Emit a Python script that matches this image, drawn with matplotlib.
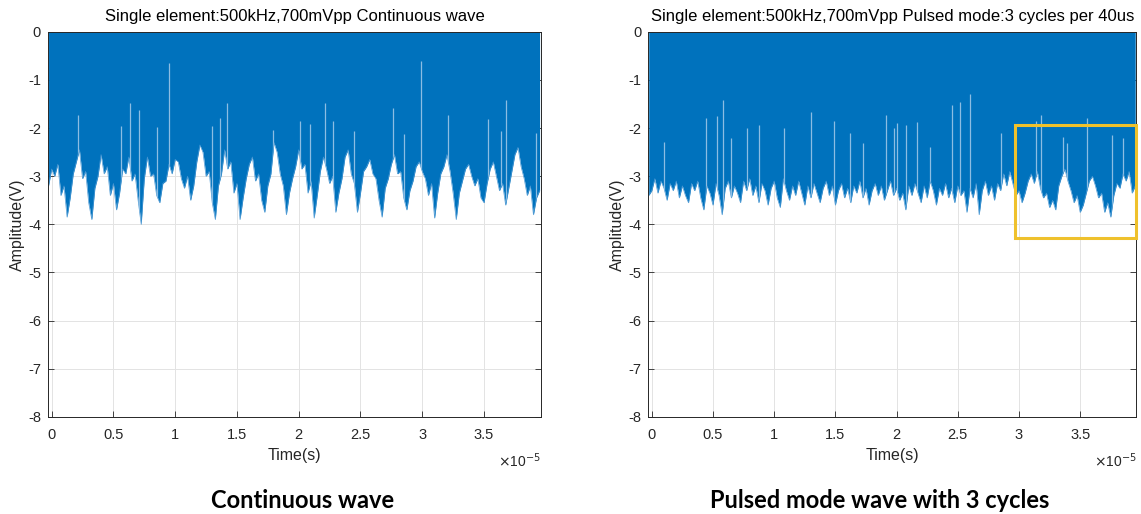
import numpy as np
import matplotlib
matplotlib.use("Agg")
import matplotlib.pyplot as plt
from matplotlib.patches import Rectangle
from matplotlib.ticker import FormatStrFormatter

plt.rcParams['font.family'] = ['Liberation Sans', 'DejaVu Sans']
plt.rcParams['axes.unicode_minus'] = False

# tiempo en unidades de 1e-5 s, muestras cada 0.025
t_inicio = -0.025
t_paso = 0.025

# envolvente inferior, onda continua
env_cont = [
    -3.20, -2.85, -3.00, -2.75, -3.40, -3.20, -3.85, -3.45, -2.95, -2.70,
    -2.45, -3.05, -2.90, -3.55, -3.90, -3.25, -3.00, -2.55, -2.95, -2.80,
    -3.40, -3.15, -3.70, -3.35, -2.85, -2.95, -2.60, -3.10, -2.95, -3.50,
    -4.00, -3.05, -2.60, -3.00, -2.95, -3.40, -3.55, -3.15, -3.10, -2.75,
    -2.95, -2.65, -2.70, -3.05, -3.25, -3.00, -3.50, -3.20, -2.70, -2.35,
    -2.50, -3.00, -2.90, -3.55, -3.90, -3.20, -2.95, -2.45, -2.85, -2.70,
    -3.35, -3.15, -3.90, -3.45, -3.05, -2.75, -2.60, -3.10, -2.95, -3.50,
    -3.75, -3.20, -2.95, -2.30, -2.50, -2.95, -3.20, -3.80, -3.35, -3.05,
    -2.80, -2.45, -2.85, -2.75, -3.35, -3.10, -3.87, -3.40, -2.90, -2.60,
    -2.85, -3.15, -3.00, -3.75, -3.35, -3.05, -2.60, -2.45, -2.95, -3.15,
    -3.75, -3.35, -2.90, -2.80, -2.65, -2.95, -3.05, -3.50, -3.85, -3.25,
    -3.05, -2.75, -2.55, -2.95, -2.90, -3.45, -3.70, -3.30, -3.10, -2.80,
    -2.70, -2.90, -3.05, -3.40, -3.15, -3.87, -3.35, -2.95, -2.80, -2.55,
    -2.90, -3.35, -3.90, -3.35, -3.10, -2.85, -2.75, -3.00, -3.20, -3.05,
    -3.45, -3.55, -3.15, -2.85, -2.70, -3.00, -3.30, -3.15, -3.60, -3.25,
    -2.90, -2.55, -2.40, -2.80, -3.05, -3.40, -3.20, -3.80, -3.45, -3.30,
]

# envolvente inferior, modo pulsado
env_pulso = [
    -3.40, -3.30, -3.05, -3.35, -3.10, -3.25, -3.50, -3.15, -3.30, -3.10,
    -3.45, -3.20, -3.40, -3.55, -3.15, -3.30, -3.10, -3.45, -3.70, -3.20,
    -3.35, -3.60, -3.15, -3.40, -3.80, -3.25, -3.10, -3.45, -3.20, -3.35,
    -3.55, -3.10, -3.30, -3.05, -3.40, -3.20, -3.55, -3.15, -3.30, -3.60,
    -3.25, -3.10, -3.45, -3.65, -3.05, -3.30, -3.50, -3.20, -3.40, -3.10,
    -3.35, -3.60, -3.20, -3.45, -3.15, -3.35, -3.55, -3.25, -3.10, -3.40,
    -3.20, -3.60, -3.30, -3.15, -3.45, -3.25, -3.55, -3.20, -3.35, -3.10,
    -3.45, -3.25, -3.60, -3.30, -3.15, -3.40, -3.20, -3.50, -3.30, -3.10,
    -3.40, -3.25, -3.50, -3.35, -3.70, -3.20, -3.40, -3.15, -3.35, -3.55,
    -3.20, -3.45, -3.10, -3.30, -3.60, -3.25, -3.40, -3.15, -3.45, -3.25,
    -3.55, -3.20, -3.40, -3.30, -3.75, -3.25, -3.45, -3.15, -3.80, -3.30,
    -3.10, -3.40, -3.20, -3.50, -3.15, -3.30, -2.95, -3.20, -2.90, -3.15,
    -3.40, -3.30, -3.55, -3.35, -3.10, -2.95, -3.15, -2.90, -3.25, -3.45,
    -3.35, -3.65, -3.50, -3.70, -3.20, -3.00, -2.85, -3.10, -3.30, -3.55,
    -3.40, -3.75, -3.60, -3.35, -3.10, -3.00, -3.20, -3.45, -3.35, -3.75,
    -3.55, -3.85, -3.40, -3.15, -3.25, -2.95, -3.10, -2.90, -3.35, -3.20,
]

# picos finos que suben dentro de la zona azul
picos_cont_t = [0.216, 0.56, 0.632, 0.71, 0.85, 0.948, 1.30, 1.36, 1.42, 1.79,
                2.01, 2.09, 2.21, 2.28, 2.45, 2.76, 2.85, 2.99, 3.21, 3.53,
                3.64, 3.68, 3.92]
picos_cont_v = [-1.73, -1.95, -1.48, -1.62, -1.97, -0.65, -1.95, -1.80, -1.48, -2.04,
                -1.86, -1.92, -1.48, -1.85, -2.07, -1.59, -2.13, -0.60, -1.73, -1.81,
                -2.07, -1.41, -2.10]

picos_pulso_t = [0.10, 0.44, 0.536, 0.585, 0.65, 0.78, 0.876, 1.08, 1.30, 1.49,
                 1.62, 1.73, 1.91, 1.98, 2.005, 2.08, 2.17, 2.27, 2.45, 2.52,
                 2.60, 2.85, 3.14, 3.18, 3.36, 3.39, 3.56, 3.76, 3.85]
picos_pulso_v = [-2.28, -1.79, -1.75, -1.41, -2.20, -2.00, -1.93, -2.00, -1.66, -1.86,
                 -2.10, -2.30, -1.73, -2.00, -1.90, -1.93, -1.88, -2.40, -1.52, -1.45,
                 -1.30, -2.10, -1.86, -1.73, -2.18, -2.30, -1.79, -2.15, -2.20]

titulos = ["Single element:500kHz,700mVpp Continuous wave",
           "Single element:500kHz,700mVpp Pulsed mode:3 cycles per 40us"]
leyendas = ["Continuous wave", "Pulsed mode wave with 3 cycles"]

# recuadro amarillo del panel derecho
caja_x = 2.97
caja_y = (-4.28, -1.93)

azul = '#0072BD'
azul_claro = '#8cbde3'
gris = '#262626'
x_min, x_max = -0.03, 3.96

fig = plt.figure(figsize=(11.41, 5.14), dpi=100)
ax1 = fig.add_axes([0.042, 0.189, 0.432, 0.749])
ax2 = fig.add_axes([0.568, 0.189, 0.428, 0.749])


def graficar(ax, env, pt, pv, titulo):
    t = t_inicio + t_paso * np.arange(len(env))
    relleno = ax.fill_between(t, env, 0, color=azul, lw=0, zorder=2)
    ax.plot(t, env, color='#4a98d4', lw=0.5, zorder=2)
    lineas = ax.vlines(pt, -4.1, pv, colors=azul_claro, lw=0.9, zorder=3)
    lineas.set_clip_path(relleno.get_paths()[0], transform=ax.transData)

    ax.set_xlim(x_min, x_max)
    ax.set_ylim(-8, 0)
    ax.set_xticks(np.arange(0, 3.6, 0.5))
    ax.set_yticks(np.arange(-8, 1, 1))
    ax.xaxis.set_major_formatter(FormatStrFormatter('%g'))
    ax.grid(True, color='#e3e3e3', lw=0.7, zorder=0)
    ax.set_axisbelow(True)
    ax.tick_params(direction='in', top=True, right=True, length=4,
                   width=0.6, color=gris, labelsize=10.5, labelcolor=gris)
    ax.tick_params(axis='x', pad=8)
    ax.tick_params(axis='y', pad=5)
    for s in ax.spines.values():
        s.set_color(gris)
        s.set_linewidth(0.7)
    ax.set_title(titulo, fontsize=12, color='black', pad=8)
    ax.set_xlabel('Time(s)', fontsize=11.5, color=gris, labelpad=4)
    ax.set_ylabel('Amplitude(V)', fontsize=11.5, color=gris, labelpad=2)
    ax.text(1.0, -0.115, r'$\times$10$^{-5}$', transform=ax.transAxes,
            ha='right', va='center', fontsize=10, color=gris)


graficar(ax1, env_cont, picos_cont_t, picos_cont_v, titulos[0])
graficar(ax2, env_pulso, picos_pulso_t, picos_pulso_v, titulos[1])

ax2.add_patch(Rectangle((caja_x, caja_y[0]), x_max - caja_x, caja_y[1] - caja_y[0],
                        fill=False, edgecolor='#EFC12C', lw=2.2, zorder=5, clip_on=False))

fig.text(0.265, 0.027, leyendas[0], ha='center', va='center',
         fontsize=17, fontweight='bold', family=['Lato', 'DejaVu Sans'])
fig.text(0.771, 0.027, leyendas[1], ha='center', va='center',
         fontsize=17, fontweight='bold', family=['Lato', 'DejaVu Sans'])

fig.savefig('out.png', dpi=100)
